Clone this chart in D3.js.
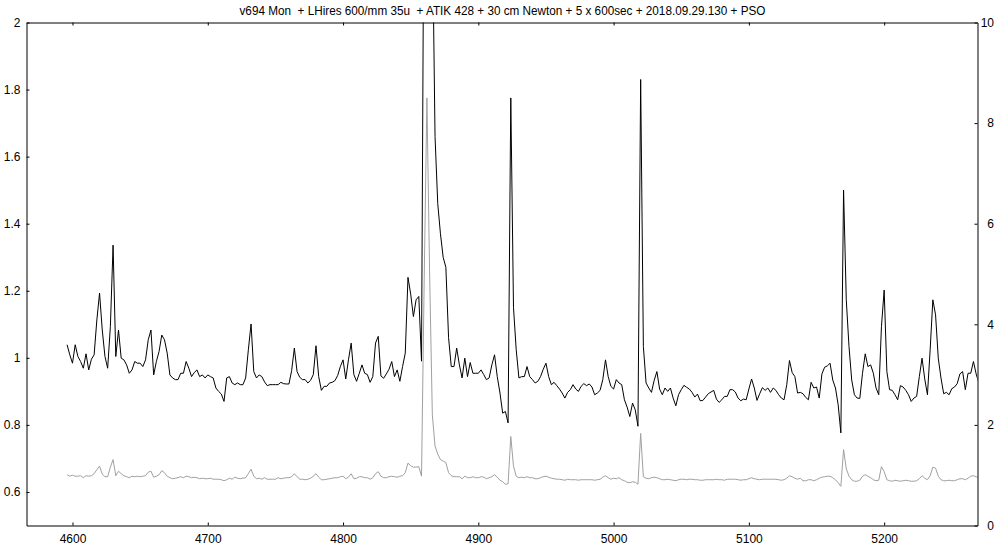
<!DOCTYPE html>
<html><head><meta charset="utf-8">
<script src="https://cdn.jsdelivr.net/npm/d3@7"></script>
<style>
body{margin:0;background:#fff}
svg{display:block}
text{font-family:"Liberation Sans",Arial,sans-serif;fill:#000}
</style>
</head><body>
<svg id="chart" width="1005" height="553"></svg>
<script>
const chartTitle = "v694 Mon  + LHires 600/mm 35u  + ATIK 428 + 30 cm Newton + 5 x 600sec + 2018.09.29.130 + PSO";
const wavelengthStart = 4596;
const wavelengthStep = 2;

// normalised spectrum (left axis)
const fluxNormalized = [
1.039,1.009,0.984,1.039,1.004,0.989,0.969,1.012,0.964,0.996,1.009,1.113,1.193,1.083,1.004,0.969,1.093,1.336,1.004,1.083,
0.999,0.994,0.979,0.954,0.964,0.989,0.984,0.984,0.974,0.994,1.054,1.083,0.949,0.989,1.019,1.068,1.054,1.014,0.949,0.94,
0.935,0.935,0.954,0.954,0.989,0.969,0.944,0.956,0.964,0.944,0.949,0.94,0.949,0.944,0.94,0.91,0.9,0.892,0.87,0.94,
0.944,0.925,0.92,0.925,0.92,0.92,
0.94,1.024,1.101,0.959,0.94,0.949,0.944,0.928,0.917,0.92,0.92,0.92,0.92,0.927,0.923,0.922,0.922,0.962,1.029,0.959,
0.942,0.935,0.935,0.925,0.933,0.95,1.036,0.944,0.903,0.915,0.915,0.925,0.927,0.932,0.947,0.974,0.994,0.937,0.994,1.044,
0.95,0.93,0.954,0.979,0.954,0.95,0.927,0.944,1.044,1.064,0.946,0.939,0.952,0.966,0.989,0.944,0.964,0.93,0.974,1.014,
1.24,1.19,1.123,1.173,1.183,0.99,
2.6,3.0,2.9,2.3,1.66,1.46,1.37,1.30,1.27,1.06,
0.974,0.974,1.029,0.979,0.94,0.999,0.944,0.986,0.954,0.954,0.954,0.964,0.95,0.935,0.94,0.979,1.009,0.944,0.895,0.835,
0.84,0.806,1.775,1.15,
1.024,0.94,0.944,0.944,0.974,0.944,0.935,0.925,0.93,0.944,0.966,0.984,0.944,0.92,0.927,0.917,0.907,0.895,0.88,0.897,
0.905,0.92,0.907,0.9,0.915,0.923,0.917,0.922,0.913,0.89,0.895,0.903,0.935,0.994,0.944,0.915,0.907,
0.935,0.925,0.92,0.875,0.853,0.825,0.865,0.845,0.796,1.83,1.034,0.925,0.91,0.897,0.933,0.959,0.907,0.89,0.91,0.9,
0.91,0.88,0.857,0.89,0.905,0.918,0.912,0.907,0.897,0.883,0.892,0.872,0.873,0.883,0.893,0.898,0.903,0.877,0.867,0.875,
0.885,0.885,0.905,0.905,0.898,0.88,0.872,0.877,0.875,0.907,0.937,0.91,0.873,0.893,0.911,0.903,0.91,0.897,0.91,0.903,
0.89,0.88,0.875,0.92,0.992,0.956,0.944,0.895,0.897,
0.893,0.882,0.875,0.927,0.91,0.913,0.88,0.952,0.972,0.976,0.984,0.934,0.91,0.86,0.776,1.50,1.173,1.034,0.934,0.89,
0.88,0.879,0.954,1.012,0.974,0.979,0.954,0.91,0.89,1.093,1.202,0.959,0.905,0.903,0.89,0.875,0.917,0.913,0.903,0.89,
0.87,0.88,0.885,0.944,0.999,0.937,0.89,1.024,1.173,1.128,0.999,0.94,0.893,0.897,0.89,0.908,0.913,0.923,0.952,0.959,
0.905,0.954,0.954,0.989,0.952,0.925
];

// second spectrum (right axis)
const fluxRight = [
1.01,0.98,1.0,0.98,0.98,0.99,0.95,0.99,0.98,0.99,1.03,1.11,1.18,1.02,0.97,0.97,1.16,1.31,0.99,1.08,
1.03,0.99,0.97,0.95,0.98,0.97,0.98,0.97,0.98,0.99,1.06,1.08,0.96,0.98,1.01,1.09,1.05,0.98,0.95,0.93,
0.94,0.95,0.97,0.95,0.98,0.97,0.95,0.96,0.95,0.93,0.94,0.93,0.93,0.94,0.92,0.92,0.92,0.91,0.89,0.91,
0.94,0.92,0.96,0.94,0.93,0.94,
0.95,1.03,1.12,0.98,0.93,0.94,0.92,0.95,0.92,0.92,0.92,0.92,0.95,0.93,0.94,0.95,0.95,0.97,1.03,0.97,
0.92,0.92,0.91,0.92,0.94,0.98,1.03,0.96,0.91,0.91,0.92,0.93,0.94,0.95,0.95,0.97,0.98,0.93,0.96,1.03,
0.93,0.94,0.97,0.97,0.95,0.95,0.92,0.95,1.03,1.07,0.98,0.95,0.95,0.97,0.98,0.97,0.96,0.98,0.99,1.05,
1.24,1.19,1.16,1.16,1.17,0.98,
4.9,8.5,5.0,2.2,1.58,1.42,1.31,1.28,1.25,1.05,
0.99,0.97,0.97,0.97,0.93,0.98,0.95,0.95,0.97,0.95,0.95,0.97,0.96,0.93,0.95,0.97,1.01,0.96,0.90,0.87,
0.82,0.83,1.77,1.18,
0.98,0.95,0.96,0.95,0.97,0.95,0.95,0.93,0.93,0.95,0.97,0.98,0.96,0.94,0.93,0.92,0.92,0.91,0.90,0.92,
0.91,0.91,0.91,0.90,0.91,0.91,0.91,0.91,0.91,0.90,0.91,0.92,0.96,0.99,0.95,0.92,0.94,
0.93,0.95,0.91,0.89,0.86,0.85,0.87,0.86,0.82,1.83,0.97,0.94,0.93,0.95,0.96,0.95,0.93,0.91,0.91,0.92,
0.91,0.90,0.89,0.91,0.92,0.92,0.91,0.92,0.92,0.91,0.91,0.90,0.90,0.91,0.91,0.91,0.91,0.92,0.91,0.91,
0.90,0.92,0.92,0.92,0.92,0.91,0.90,0.91,0.91,0.93,0.95,0.93,0.92,0.91,0.92,0.92,0.92,0.92,0.92,0.92,
0.91,0.90,0.91,0.94,0.99,0.97,0.94,0.92,0.94,
0.89,0.89,0.91,0.91,0.89,0.91,0.94,0.96,0.97,0.98,0.98,0.95,0.91,0.85,0.78,1.51,1.13,0.98,0.91,0.88,
0.88,0.90,0.98,1.01,0.98,0.95,0.91,0.89,0.90,1.17,1.07,0.91,0.89,0.88,0.90,0.89,0.88,0.89,0.90,0.89,
0.88,0.88,0.89,0.93,0.99,0.94,0.91,0.99,1.16,1.14,0.98,0.91,0.89,0.89,0.90,0.89,0.89,0.91,0.93,0.93,
0.91,0.94,0.98,0.99,0.97,0.95
];

const xTickValues = [4600,4700,4800,4900,5000,5100,5200];
const yLeftTickValues = [0.6,0.8,1,1.2,1.4,1.6,1.8,2];
const yRightTickValues = [0,2,4,6,8,10];
const xDomain = [4566, 5269];
const yLeftDomain = [0.5, 2];
const yRightDomain = [0, 10];

const wavelengths = fluxNormalized.map((_, i) => wavelengthStart + i * wavelengthStep);

const svg = d3.select("#chart");
const L = 26.5, R = 977.5, T = 22.5, B = 525.5;

const x = d3.scaleLinear().domain(xDomain).range([L, R]);
const yL = d3.scaleLinear().domain(yLeftDomain).range([B, T]);
const yR = d3.scaleLinear().domain(yRightDomain).range([B, T]);

svg.append("defs").append("clipPath").attr("id", "plotclip")
  .append("rect").attr("x", L).attr("y", T).attr("width", R - L).attr("height", B - T);

const plot = svg.append("g").attr("clip-path", "url(#plotclip)");

const lineRight = d3.line().x((d, i) => x(wavelengths[i])).y(d => yR(d));
const lineLeft = d3.line().x((d, i) => x(wavelengths[i])).y(d => yL(d));

plot.append("path").datum(fluxRight)
  .attr("d", lineRight).attr("fill", "none").attr("stroke", "#a0a0a0").attr("stroke-width", 1);
plot.append("path").datum(fluxNormalized)
  .attr("d", lineLeft).attr("fill", "none").attr("stroke", "#000").attr("stroke-width", 1);

function styleAxis(g) {
  g.selectAll("path.domain").attr("stroke", "#000").attr("stroke-width", 1);
  g.selectAll(".tick line").attr("stroke", "#000");
  g.selectAll("text").attr("font-size", 12).attr("font-family", '"Liberation Sans",Arial,sans-serif').attr("fill", "#000");
}

const gx = svg.append("g").attr("transform", `translate(0,${B})`)
  .call(d3.axisBottom(x).tickValues(xTickValues).tickFormat(d3.format("d")).tickSize(-3).tickSizeOuter(0).tickPadding(9));
styleAxis(gx);

const gxt = svg.append("g").attr("transform", `translate(0,${T})`)
  .call(d3.axisTop(x).tickValues(xTickValues).tickFormat("").tickSize(-3).tickSizeOuter(0));
styleAxis(gxt);

const gyl = svg.append("g").attr("transform", `translate(${L},0)`)
  .call(d3.axisLeft(yL).tickValues(yLeftTickValues).tickFormat(d => d3.format("~g")(d)).tickSize(-3).tickSizeOuter(0).tickPadding(6));
styleAxis(gyl);

const gyr = svg.append("g").attr("transform", `translate(${R},0)`)
  .call(d3.axisRight(yR).tickValues(yRightTickValues).tickFormat(d3.format("d")).tickSize(-3).tickSizeOuter(0).tickPadding(6));
styleAxis(gyr);
gyr.selectAll("text").attr("text-anchor", "end").attr("x", 16.5);

svg.append("text")
  .attr("x", 502.5).attr("y", 15)
  .attr("text-anchor", "middle")
  .attr("font-size", 12)
  .attr("textLength", 526).attr("lengthAdjust", "spacingAndGlyphs")
  .style("white-space", "pre")
  .text(chartTitle);
</script>
</body></html>
